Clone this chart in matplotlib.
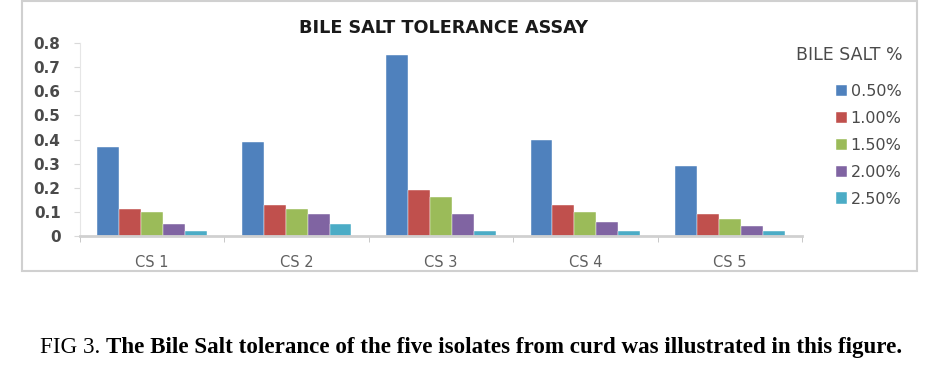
import matplotlib.pyplot as plt
import numpy as np

# Bile salt tolerance (OD) of the five curd isolates
isolates = ['CS 1', 'CS 2', 'CS 3', 'CS 4', 'CS 5']
bile_conc = ['0.50%', '1.00%', '1.50%', '2.00%', '2.50%']
od_050 = [0.37, 0.39, 0.75, 0.40, 0.29]
od_100 = [0.11, 0.13, 0.19, 0.13, 0.09]
od_150 = [0.10, 0.11, 0.16, 0.10, 0.07]
od_200 = [0.05, 0.09, 0.09, 0.06, 0.04]
od_250 = [0.02, 0.05, 0.02, 0.02, 0.02]
y_ticks = [0, 0.1, 0.2, 0.3, 0.4, 0.5, 0.6, 0.7, 0.8]
y_tick_labels = ['0', '0.1', '0.2', '0.3', '0.4', '0.5', '0.6', '0.7', '0.8']

series = [od_050, od_100, od_150, od_200, od_250]
colors = ['#4F81BD', '#C0504D', '#9BBB59', '#8064A2', '#4BACC6']
font = 'DejaVu Sans'

fig = plt.figure(figsize=(9.53, 3.73), dpi=100)

# grey frame around the chart area
frame = plt.Rectangle((22 / 953, 1 - 271 / 373), 895 / 953, 270 / 373,
                      transform=fig.transFigure, fill=False,
                      edgecolor='#D0D0D0', linewidth=1.5)
fig.patches.append(frame)

ax = fig.add_axes([80 / 953, 1 - 236 / 373, 722 / 953, 193 / 373])

x = np.arange(len(isolates))
w = 0.152
for i, (vals, col, lab) in enumerate(zip(series, colors, bile_conc)):
    ax.bar(x + (i - 2) * w, vals, width=w, color=col, label=lab,
           edgecolor='white', linewidth=0.3)

ax.set_xlim(-0.5, len(isolates) - 0.5)
ax.set_ylim(0, 0.8)
ax.set_yticks(y_ticks)
ax.set_yticklabels(y_tick_labels, fontfamily=font, fontweight='bold',
                   fontsize=11, color='#4A4A4A')
ax.set_xticks(x)
ax.set_xticklabels(isolates, fontfamily=font, fontsize=10.5,
                   color='#606060')
ax.set_xticks(np.arange(len(isolates) + 1) - 0.5, minor=True)
ax.tick_params(axis='x', which='major', length=0, pad=14)
ax.tick_params(axis='x', which='minor', length=4, color='#BFBFBF')
ax.tick_params(axis='y', length=4, color='#D9D9D9', pad=10)

for s in ['top', 'right']:
    ax.spines[s].set_visible(False)
ax.spines['left'].set_color('#E6E6E6')
ax.spines['bottom'].set_color('#D0D0D0')
ax.spines['bottom'].set_linewidth(2)

fig.text(444 / 953, 1 - 28 / 373, 'BILE SALT TOLERANCE ASSAY',
         ha='center', va='center', fontfamily=font, fontweight='bold',
         fontsize=12.7, color='#1A1A1A')

fig.text(903 / 953, 1 - 55 / 373, 'BILE SALT %', ha='right', va='center',
         fontfamily=font, fontsize=12.5, color='#4A4A4A')

leg = ax.legend(loc='upper right', bbox_to_anchor=(916 / 953, 1 - 70 / 373),
                bbox_transform=fig.transFigure, frameon=False,
                handlelength=0.7, handleheight=0.7,
                handletextpad=0.25, labelspacing=0.74,
                prop={'family': font, 'size': 11.5})
for t in leg.get_texts():
    t.set_color('#4A4A4A')

# caption: plain "FIG 3." followed by bold sentence, same baseline
cap_y = 1 - 353 / 373
t1 = fig.text(40 / 953, cap_y, 'FIG 3. ', ha='left', va='baseline',
              fontfamily='Liberation Serif', fontsize=16.6, color='black')
fig.canvas.draw()
bb = t1.get_window_extent()
fig.text(bb.x1 / 953, cap_y,
         'The Bile Salt tolerance of the five isolates from curd was illustrated in this figure.',
         ha='left', va='baseline', fontfamily='Liberation Serif',
         fontweight='bold', fontsize=16.6, color='black')

plt.savefig('out.png', dpi=100)
